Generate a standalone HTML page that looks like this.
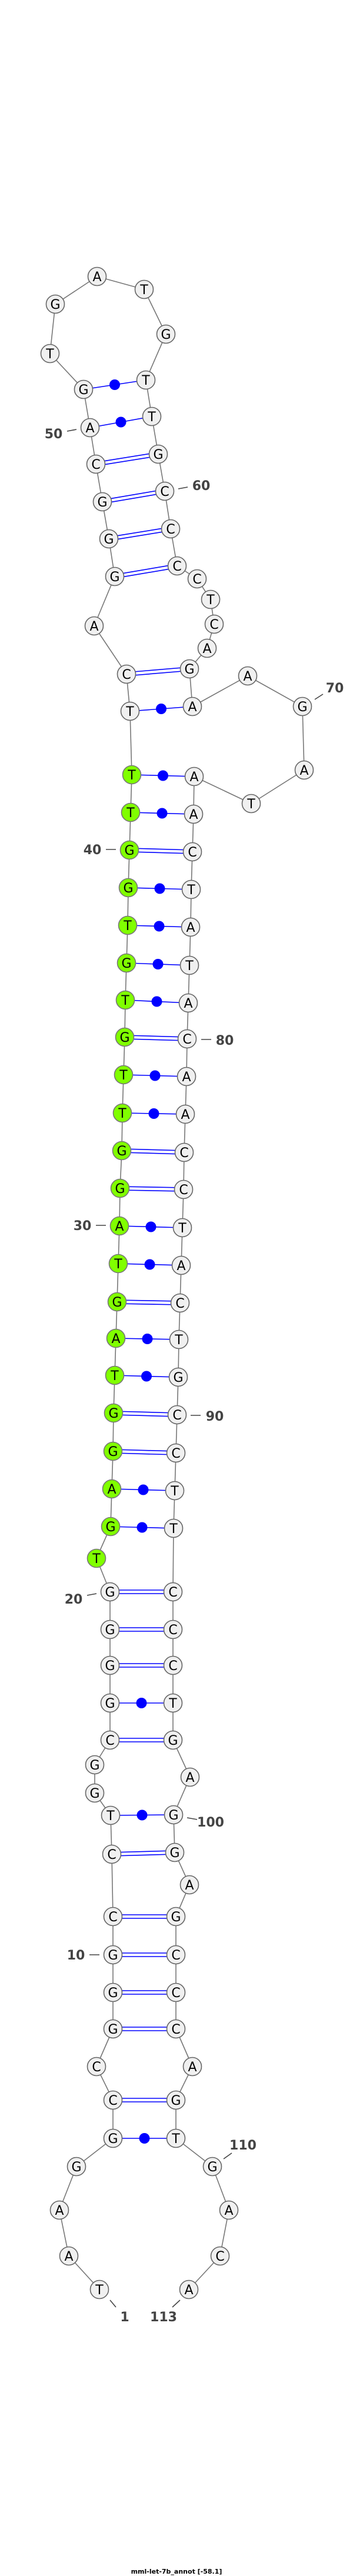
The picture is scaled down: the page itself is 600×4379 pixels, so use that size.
<!DOCTYPE html>
<html><head><meta charset="utf-8"><style>
html,body{margin:0;padding:0;background:#fff;}
svg{display:block;}
.bb{stroke:#777;stroke-width:1.6;fill:none;}
.bp{stroke:#0000ff;stroke-width:1.6;fill:none;}
.n{fill:#f0f0f0;stroke:#666;stroke-width:1.6;}
.g{fill:#80ff00;stroke:#777;stroke-width:1.6;}
.t{font-family:"DejaVu Sans","Liberation Sans",sans-serif;font-size:22px;text-anchor:middle;fill:#000;}
.lb{font-family:"DejaVu Sans","Liberation Sans",sans-serif;font-size:22px;font-weight:bold;text-anchor:middle;fill:#444;}
.tk{stroke:#444;stroke-width:1.6;}
.title{font-family:"DejaVu Sans","Liberation Sans",sans-serif;font-size:11px;font-weight:bold;text-anchor:middle;fill:#000;}
</style></head><body>
<svg id="s" xmlns="http://www.w3.org/2000/svg" width="600" height="4379" viewBox="0 0 600 4379"></svg>
<script>
var N=[
["T",169,3892],["A",117,3835],["A",101,3757],["G",130,3683],["G",192,3635],["C",192,3570],["C",164,3513],["G",192,3449],["G",192,3387],["G",192,3323],
["C",192,3258],["C",190,3152],["T",188,3086],["G",161,3048],["G",161,3000],["C",187,2958],["G",187,2895],["G",187,2831],["G",187,2770],["G",187,2706],
["T",164,2649],["G",188,2595],["A",190,2531],["G",192,2467],["G",193,2402],["T",195,2338],["A",197,2275],["G",199,2213],["T",201,2148],["A",203,2084],
["G",204,2020],["G",207,1956],["T",208,1892],["T",210,1827],["G",212,1763],["T",213,1700],["G",215,1637],["T",217,1573],["G",218,1509],["G",220,1445],
["T",222,1381],["T",224,1317],["T",221,1209],["C",215,1146],["A",160,1064],["G",195,980],["G",185,916],["G",174,853],["C",163,789],["A",153,727],
["G",142,662],["T",85,601],["G",94,517],["A",165,470],["T",245,492],["G",282,568],["T",248,646],["T",258,708],["G",269,772],["C",280,835],
["C",290,899],["C",301,962],["C",335,984],["T",358,1019],["C",364,1061],["A",352,1102],["G",322,1137],["A",327,1201],["A",421,1149],["G",514,1201],
["A",517,1309],["T",427,1366],["A",330,1320],["A",329,1384],["C",327,1448],["T",325,1512],["A",324,1576],["T",322,1641],["A",320,1705],["C",318,1766],
["A",317,1830],["A",315,1894],["C",313,1959],["C",312,2022],["T",310,2087],["A",308,2151],["C",306,2215],["T",304,2277],["G",303,2341],["C",301,2405],
["C",299,2470],["T",297,2534],["T",295,2598],["C",294,2706],["C",294,2770],["C",294,2831],["T",294,2895],["G",294,2958],["A",323,3021],["G",295,3085],
["G",297,3149],["A",322,3204],["G",299,3258],["C",299,3323],["C",299,3387],["C",299,3449],["A",327,3513],["G",299,3570],["T",299,3635],["G",361,3683],
["A",389,3757],["C",374,3835],["A",321,3892]];
var P=[[5,109],[6,108],[8,106],[9,105],[10,104],[11,103],[12,101],[13,100],[16,98],[17,97],[18,96],[19,95],[20,94],
[22,93],[23,92],[24,91],[25,90],[26,89],[27,88],[28,87],[29,86],[30,85],[31,84],[32,83],[33,82],[34,81],[35,80],[36,79],
[37,78],[38,77],[39,76],[40,75],[41,74],[42,73],[43,68],[44,67],[46,62],[47,61],[48,60],[49,59],[50,58],[51,57]];
var L=[["50",91,737,114,733,130,730],["60",342,825,303,831,319,828],["70",569,1169,535,1189,549,1180],["40",157,1444,180,1444,197,1444],
["80",382,1768,342,1767,359,1767],["30",140,2083,163,2083,180,2083],["90",365,2407,324,2406,341,2406],["20",125,2718,148,2712,164,2709],
["100",358,3097,318,3090,335,3093],["10",129,3323,152,3323,169,3323],["110",413,3646,380,3670,394,3660],["1",212,3938,187,3910,197,3922],["113",278,3938,306,3910,293,3922]];
var h='';
for(var i=0;i<N.length-1;i++)h+='<line class="bb" x1="'+N[i][1]+'" y1="'+N[i][2]+'" x2="'+N[i+1][1]+'" y2="'+N[i+1][2]+'"/>';
P.forEach(function(p){var a=N[p[0]-1],b=N[p[1]-1];var s=a[0]+b[0];
 var dx=b[1]-a[1],dy=b[2]-a[2],d=Math.sqrt(dx*dx+dy*dy),nx=-dy/d*3,ny=dx/d*3;
 if(s=="GC"||s=="CG"){
  h+='<line class="bp" x1="'+(a[1]+nx)+'" y1="'+(a[2]+ny)+'" x2="'+(b[1]+nx)+'" y2="'+(b[2]+ny)+'"/>';
  h+='<line class="bp" x1="'+(a[1]-nx)+'" y1="'+(a[2]-ny)+'" x2="'+(b[1]-nx)+'" y2="'+(b[2]-ny)+'"/>';
 }else{
  h+='<line class="bp" x1="'+a[1]+'" y1="'+a[2]+'" x2="'+b[1]+'" y2="'+b[2]+'"/>';
  h+='<circle cx="'+((a[1]+b[1])/2)+'" cy="'+((a[2]+b[2])/2)+'" r="9" fill="#0000ff"/>';
 }});
N.forEach(function(n,i){var k=i+1;var gr=(k>=21&&k<=42);
 h+='<circle class="'+(gr?'g':'n')+'" cx="'+n[1]+'" cy="'+n[2]+'" r="15.5"/>';
 h+='<text class="t" x="'+n[1]+'" y="'+(n[2]+8)+'">'+n[0]+'</text>';});
L.forEach(function(l){h+='<line class="tk" x1="'+l[3]+'" y1="'+l[4]+'" x2="'+l[5]+'" y2="'+l[6]+'"/>';
 h+='<text class="lb" x="'+l[1]+'" y="'+(l[2]+8)+'">'+l[0]+'</text>';});
h+='<text class="title" x="300" y="4375">mml-let-7b_annot [-58.1]</text>';
document.getElementById('s').innerHTML=h;
</script>
</body></html>
